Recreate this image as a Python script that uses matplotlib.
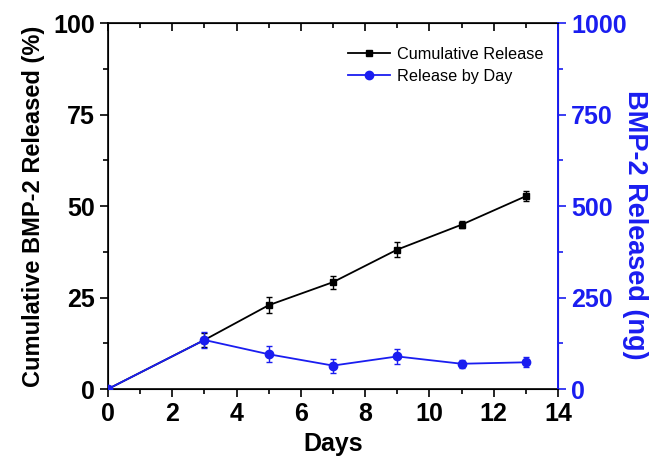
import matplotlib.pyplot as plt
from matplotlib.lines import Line2D
import numpy as np

plt.rcParams['font.family'] = ['Liberation Sans', 'DejaVu Sans']

# release data
days = [0, 3, 5, 7, 9, 11, 13]
cumulative = [0, 13.4, 22.9, 29.2, 38.1, 44.9, 52.7]
cumulative_err = [0, 2.0, 2.2, 1.8, 2.0, 1.0, 1.3]
daily = [0, 134, 95, 64, 89, 69, 73]
daily_err = [0, 23, 22, 19, 20, 11, 14]

blue = '#1a1df0'

fig = plt.figure(figsize=(6.52, 4.62), dpi=100)
ax = fig.add_axes([0.1656, 0.158, 0.6902, 0.792])
ax2 = ax.twinx()

ax.errorbar(days, cumulative, yerr=cumulative_err, color='black', marker='s',
            markersize=4.8, lw=1.3, capsize=2.5, elinewidth=1, capthick=1, zorder=3)
ax2.errorbar(days, daily, yerr=daily_err, color=blue, marker='o',
             markersize=6, lw=1.3, capsize=2.5, elinewidth=1, capthick=1, zorder=3)

ax.set_xlim(0, 14)
ax.set_ylim(0, 100)
ax2.set_ylim(0, 1000)
ax.set_xticks(np.arange(0, 15, 2))
ax.set_xticks(np.arange(1, 14, 2), minor=True)
ax.set_yticks([0, 25, 50, 75, 100])
ax.set_yticks([12.5, 37.5, 62.5, 87.5], minor=True)
ax2.set_yticks([0, 250, 500, 750, 1000])
ax2.set_yticks([125, 375, 625, 875], minor=True)

# top axis mirrors the bottom ticks, pointing inward
ax.tick_params(axis='x', which='both', top=True)
for a in (ax, ax2):
    a.tick_params(which='major', direction='out', length=6, width=1.2, labelsize=18)
    a.tick_params(which='minor', direction='out', length=3.5, width=1.2)
    for lab in a.get_xticklabels() + a.get_yticklabels():
        lab.set_fontweight('bold')
for t in ax.xaxis.get_major_ticks() + ax.xaxis.get_minor_ticks():
    t.tick2line.set_marker(3)

ax.spines['left'].set_linewidth(1.2)
ax.spines['bottom'].set_linewidth(1.2)
ax.spines['top'].set_linewidth(1.2)
ax2.spines['right'].set_color(blue)
ax2.spines['right'].set_linewidth(1.4)
ax2.tick_params(axis='y', which='both', colors=blue)
for lab in ax2.get_yticklabels():
    lab.set_color(blue)

ax.set_xlabel('Days', fontsize=18, fontweight='bold', labelpad=4)
ax.set_ylabel('Cumulative BMP-2 Released (%)', fontsize=17, fontweight='bold', labelpad=6)
ax2.set_ylabel('BMP-2 Released (ng)', fontsize=19.5, fontweight='bold', color=blue,
               rotation=270)
ax2.yaxis.set_label_coords(1.2, 0.45)

handles = [Line2D([], [], color='black', marker='s', markersize=4.8, lw=1.3),
           Line2D([], [], color=blue, marker='o', markersize=6, lw=1.3)]
ax.legend(handles, ['Cumulative Release', 'Release by Day'], loc='upper right',
          bbox_to_anchor=(1.0, 0.975), frameon=False, fontsize=11.7,
          handlelength=2.6, handletextpad=0.4, labelspacing=0.45)

fig.savefig('out.png', dpi=100)
